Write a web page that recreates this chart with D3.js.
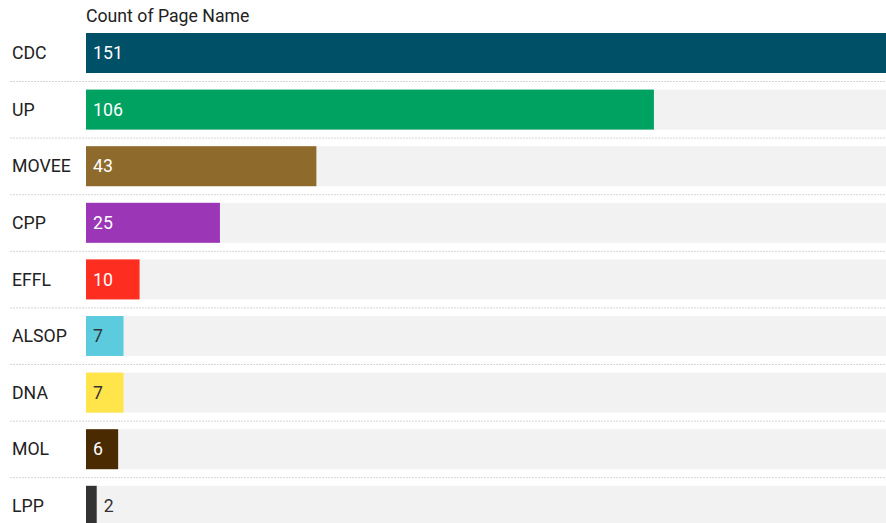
<!DOCTYPE html>
<html lang="en">
<head>
    <meta charset="UTF-8">
    <title>Count of Page Name</title>
    <script src="https://d3js.org/d3.v7.min.js"></script>
    <style>
        body { margin: 0; background: #fff; overflow: hidden; }
        svg { display: block; font-family: Roboto, "Noto Sans", sans-serif; }
    </style>
</head>
<body>
    <div id="chart"></div>
    <script>
        // Data
        const pages = ["CDC", "UP", "MOVEE", "CPP", "EFFL", "ALSOP", "DNA", "MOL", "LPP"];
        const counts = [151, 106, 43, 25, 10, 7, 7, 6, 2];
        const barColors = ["#005068", "#00a262", "#8f6a2d", "#9b36b7", "#fd2d20",
                           "#5bcbdd", "#ffe44a", "#4a2a00", "#333333"];
        const labelColors = ["#fff", "#fff", "#fff", "#fff", "#fff", "#333", "#333", "#fff", "#333"];

        const width = 886;
        const height = 523;
        const step = 56.6;
        const pad = 0.293;

        const svg = d3.select("#chart")
            .append("svg")
            .attr("width", width)
            .attr("height", height);

        // x scale runs a little past the right edge, the top bar is clipped
        const x = d3.scaleLinear()
            .domain([0, 151])
            .range([86, 895]);

        const y = d3.scaleBand()
            .domain(pages)
            .range([33, 33 + step * (pages.length - pad)])
            .paddingInner(pad)
            .paddingOuter(0);

        const rows = svg.selectAll(".row")
            .data(pages)
            .enter()
            .append("g")
            .attr("class", "row");

        // grey track
        rows.append("rect")
            .attr("x", x(0))
            .attr("y", d => y(d))
            .attr("width", width - x(0))
            .attr("height", y.bandwidth())
            .attr("fill", "#f2f2f2");

        // bars
        rows.append("rect")
            .attr("x", x(0))
            .attr("y", d => y(d))
            .attr("width", (d, i) => x(counts[i]) - x(0))
            .attr("height", y.bandwidth())
            .attr("fill", (d, i) => barColors[i]);

        // dotted separators under each row
        rows.filter((d, i) => i < pages.length - 1)
            .append("line")
            .attr("x1", 10)
            .attr("x2", width)
            .attr("y1", d => y(d) + y.bandwidth() + 8.5)
            .attr("y2", d => y(d) + y.bandwidth() + 8.5)
            .attr("stroke", "#d6d6d6")
            .attr("stroke-width", 1)
            .attr("stroke-dasharray", "2,1");

        // category labels
        rows.append("text")
            .attr("x", 12)
            .attr("y", d => y(d) + y.bandwidth() / 2)
            .attr("dy", "0.35em")
            .attr("font-size", 17.7)
            .attr("fill", "#222")
            .text(d => d);

        // value labels
        rows.append("text")
            .attr("x", (d, i) => {
                const w = x(counts[i]) - x(0);
                return w < 20 ? x(counts[i]) + 7 : x(0) + 7;
            })
            .attr("y", d => y(d) + y.bandwidth() / 2)
            .attr("dy", "0.35em")
            .attr("font-size", 17.7)
            .attr("fill", (d, i) => labelColors[i])
            .text((d, i) => counts[i]);

        // title
        svg.append("text")
            .attr("x", 86)
            .attr("y", 22)
            .attr("font-size", 17.7)
            .attr("fill", "#222")
            .text("Count of Page Name");
    </script>
</body>
</html>
